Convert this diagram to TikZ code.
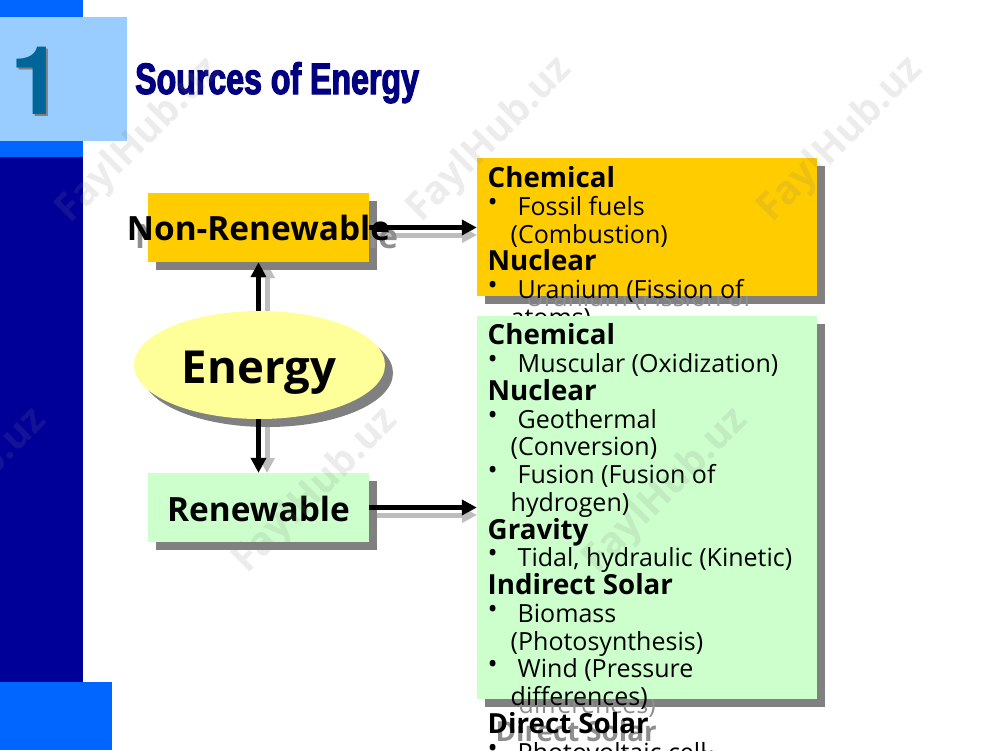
\documentclass[tikz,border=0pt]{standalone}
\usepackage{fontspec}
\usetikzlibrary{arrows.meta,shapes.geometric}
\setmainfont{Open Sans}
\newfontfamily\titlefont[FakeBold=2.5,FakeStretch=0.73]{Liberation Sans Bold}
\newfontfamily\numfont{TeX Gyre Heros}
\definecolor{deepblue}{HTML}{000099}
\definecolor{midblue}{HTML}{0066FF}
\definecolor{paleblue}{HTML}{99CCFF}
\definecolor{orangebox}{HTML}{FFCC00}
\definecolor{greenbox}{HTML}{CCFFCC}
\definecolor{ovalfill}{HTML}{FFFF99}
\definecolor{boxshade}{HTML}{808080}
\definecolor{textshade}{HTML}{8E8E8E}
\definecolor{arrowshade}{HTML}{BDBDBD}
\definecolor{navytitle}{HTML}{000080}
\definecolor{numblue}{HTML}{006699}
\newcommand{\hd}[1]{{\fontsize{27.7}{27.75}\selectfont\bfseries #1}}
\newcommand{\bu}[1]{\makebox[30pt][l]{\raisebox{4pt}{\fontsize{27}{27}\selectfont•}}#1}
\newcommand{\cont}[1]{\hspace{23pt}#1}
\newcommand{\orangetext}{\hd{Chemical}\\\bu{Fossil fuels}\\\cont{(Combustion)}\\\hd{Nuclear}\\\bu{Uranium (Fission of}\\\cont{atoms)}}
\newcommand{\greentext}{\hd{Chemical}\\\bu{Muscular (Oxidization)}\\\hd{Nuclear}\\\bu{Geothermal}\\\cont{(Conversion)}\\\bu{Fusion (Fusion of}\\\cont{hydrogen)}\\\hd{Gravity}\\\bu{Tidal, hydraulic (Kinetic)}\\\hd{Indirect Solar}\\\bu{Biomass}\\\cont{(Photosynthesis)}\\\bu{Wind (Pressure}\\\cont{differences)}\\\hd{Direct Solar}\\\bu{Photovoltaic cell}}
\tikzset{
  panel/.style={rectangle,inner sep=0pt,minimum width=#1},
  listtext/.style={anchor=north west,inner sep=0pt,align=left,font=\fontsize{25}{27.75}\selectfont},
  labeltext/.style={inner sep=0pt,font=\fontsize{33.4}{40}\selectfont\bfseries},
  flow/.style={line width=5pt,-{Triangle[length=15pt,width=15pt]}},
  flowshade/.style={flow,draw=arrowshade},
  mark text/.style={rotate=45,font=\fontsize{39}{39}\selectfont\bfseries,text=boxshade,opacity=.15,inner sep=0pt}
}
\begin{document}
\begin{tikzpicture}[x=1pt,y=-1pt]
\useasboundingbox (0,0) rectangle (1000,750);
% sidebar
\fill[midblue] (0,0) rectangle (83,157);
\fill[deepblue] (0,157) rectangle (83,682);
\fill[midblue] (0,682) rectangle (112,750);
\fill[paleblue] (0,17) rectangle (126.5,141);
\node[anchor=base,inner sep=0pt,text=boxshade,font=\fontsize{95}{95}\selectfont\numfont\bfseries] (numshade) at (39,116.5) {1};
\node[anchor=base,inner sep=0pt,text=numblue,font=\fontsize{95}{95}\selectfont\numfont\bfseries] (num) at (37,114.5) {1};
\node[anchor=base west,inner sep=0pt,text=navytitle,font=\fontsize{44}{44}\selectfont\titlefont] (title) at (135,94) {Sources of Energy};
% arrow shadows
\coordinate (sa1) at (267,311); \coordinate (sa2) at (267,263);
\draw[flowshade] (sa1) -- (sa2);
\coordinate (sb1) at (267,419); \coordinate (sb2) at (267,473);
\draw[flowshade] (sb1) -- (sb2);
\coordinate (sc1) at (369,235); \coordinate (sc2) at (477,235);
\draw[flowshade] (sc1) -- (sc2);
\coordinate (sd1) at (369,515); \coordinate (sd2) at (477,515);
\draw[flowshade] (sd1) -- (sd2);
% shadows
\fill[boxshade] (156,201) rectangle (377,270);
\fill[boxshade] (156,481) rectangle (377,550);
\fill[boxshade] (485,166) rectangle (825,304);
\fill[boxshade] (485,324) rectangle (825,707);
\node[ellipse,fill=boxshade,minimum width=251pt,minimum height=108pt,inner sep=0pt] (ovalshade) at (267.5,373) {};
\node[labeltext,text=textshade] (nrshade) at (266.5,236) {Non-Renewable};
\node[listtext,text=textshade] (orshade) at (495.5,174) {\orangetext};
\node[listtext,text=textshade] (grshade) at (495.5,331.5) {\greentext};
% boxes
\node[panel=221pt,minimum height=69pt,fill=orangebox] (nonren) at (258.5,227.5) {};
\node[labeltext] (nrlabel) at (258.5,228) {Non-Renewable};
\node[panel=221pt,minimum height=69pt,fill=greenbox] (ren) at (258.5,507.5) {};
\node[labeltext] (renlabel) at (258.5,509) {Renewable};
\node[ellipse,fill=ovalfill,minimum width=251pt,minimum height=108pt,inner sep=0pt] (energy) at (259.5,365) {};
\node[inner sep=0pt,font=\fontsize{45.5}{50}\selectfont\bfseries] (energylabel) at (259,372.5) {Energy};
\node[panel=340pt,minimum height=138pt,fill=orangebox] (fossil) at (647,227) {};
\node[listtext] (ortext) at (487.5,166.3) {\orangetext};
\node[panel=340pt,minimum height=383pt,fill=greenbox] (green) at (647,507.5) {};
\node[listtext] (grtext) at (487.5,323.5) {\greentext};
% arrows
\draw[flow] (nonren.south |- energy.north) -- (nonren.south);
\draw[flow] (ren.north |- energy.south) -- (ren.north);
\draw[flow] (nonren.east) -- (nonren.east -| fossil.west);
\draw[flow] (ren.east) -- (ren.east -| green.west);
% watermarks
\node[mark text] (w1) at (139,141) {FaylHub.uz};
\node[mark text] (w2) at (490,140) {FaylHub.uz};
\node[mark text] (w3) at (841,140) {FaylHub.uz};
\node[mark text] (w4) at (316,491) {FaylHub.uz};
\node[mark text] (w5) at (666,491) {FaylHub.uz};
\node[mark text] (w6) at (-35,491) {FaylHub.uz};
\end{tikzpicture}
\end{document}
